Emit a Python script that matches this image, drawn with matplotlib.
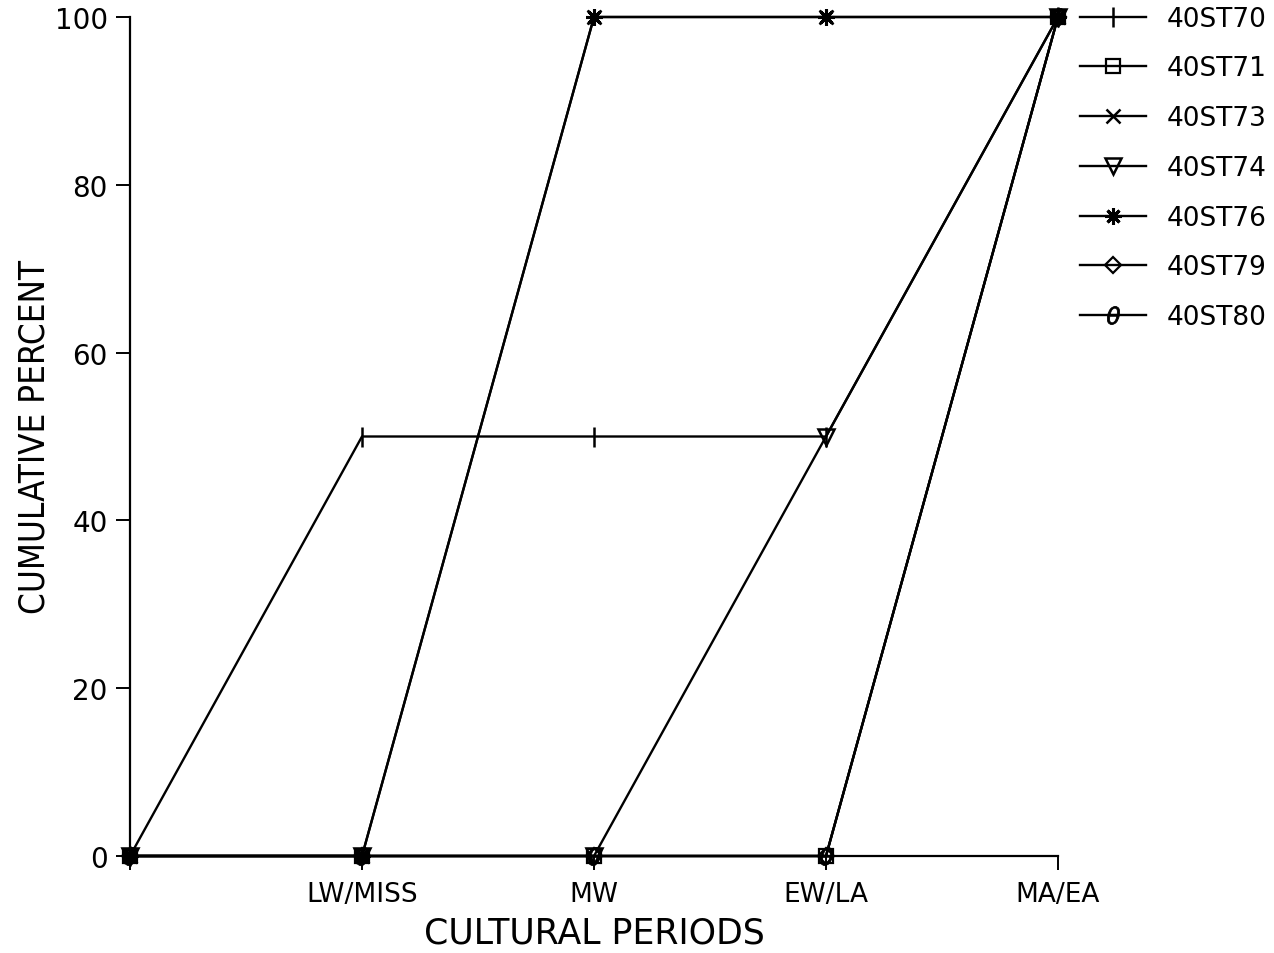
import matplotlib
matplotlib.use("Agg")
import matplotlib.pyplot as plt
from matplotlib import font_manager

# Cultural period positions (first position is the unlabeled origin)
periods = ["", "LW/MISS", "MW", "EW/LA", "MA/EA"]

# Cumulative percent per site across periods
st70 = [0, 50, 50, 50, 100]
st71 = [0, 0, 0, 0, 100]
st73 = [0, 0, 100, 100, 100]
st74 = [0, 0, 0, 50, 100]
st76 = [0, 0, 100, 100, 100]
st79 = [0, 0, 0, 0, 100]
st80 = [0, 0, 0, 0, 100]

site_names = ["40ST70", "40ST71", "40ST73", "40ST74", "40ST76", "40ST79", "40ST80"]
site_values = [st70, st71, st73, st74, st76, st79, st80]

plt.rcParams["font.family"] = ["DejaVu Sans"]

installed = {f.name for f in font_manager.fontManager.ttflist}
narrow = "Liberation Sans Narrow" if "Liberation Sans Narrow" in installed else "DejaVu Sans"
narrow_stretch = "normal" if narrow != "DejaVu Sans" else "condensed"

W, H = 1274, 954
fig = plt.figure(figsize=(W / 100, H / 100), dpi=100)
ax = fig.add_axes([130 / W, 1 - 857 / H, (1058 - 130) / W, (857 - 18) / H])

styles = [
    dict(marker="|", markersize=14, markeredgewidth=1.8),
    dict(marker="s", markersize=10, markerfacecolor="none", markeredgewidth=1.6),
    dict(marker="x", markersize=10, markeredgewidth=1.8),
    dict(marker="v", markersize=11, markerfacecolor="none", markeredgewidth=1.8),
    dict(marker=(8, 2, 0), markersize=12, markeredgewidth=2.2),
    dict(marker="D", markersize=8, markerfacecolor="none", markeredgewidth=1.6),
    dict(marker=r"$\theta$", markersize=13, markeredgewidth=0.6),
]

x = list(range(len(periods)))
for name, vals, st in zip(site_names, site_values, styles):
    ax.plot(x, vals, color="black", linewidth=1.7, label=name, **st)

ax.set_xlim(0, len(periods) - 1)
ax.set_ylim(0, 100)
ax.set_xticks(x)
ax.set_xticklabels(periods)
ax.set_yticks([0, 20, 40, 60, 80, 100])
ax.tick_params(axis="y", direction="out", length=10, width=1.4, labelsize=20, pad=6)
ax.tick_params(axis="x", direction="out", length=10, width=1.4, labelsize=19, pad=8)

for side in ("top", "right"):
    ax.spines[side].set_visible(False)
for side in ("left", "bottom"):
    ax.spines[side].set_linewidth(1.6)

fig.text(35 / W, 1 - 437 / H, "CUMULATIVE PERCENT", rotation=90, ha="center", va="center",
         fontsize=25, family=narrow, fontstretch=narrow_stretch)
ax.set_xlabel("CULTURAL PERIODS", fontsize=25, labelpad=6)

for line in ax.lines:
    line.set_clip_on(False)

leg = ax.legend(loc="upper left", bbox_to_anchor=(1.012, 1.026), frameon=False,
                fontsize=19, handlelength=2.5, labelspacing=0.9, handletextpad=0.8,
                borderaxespad=0)

fig.savefig("out.png", dpi=100, facecolor="white")
